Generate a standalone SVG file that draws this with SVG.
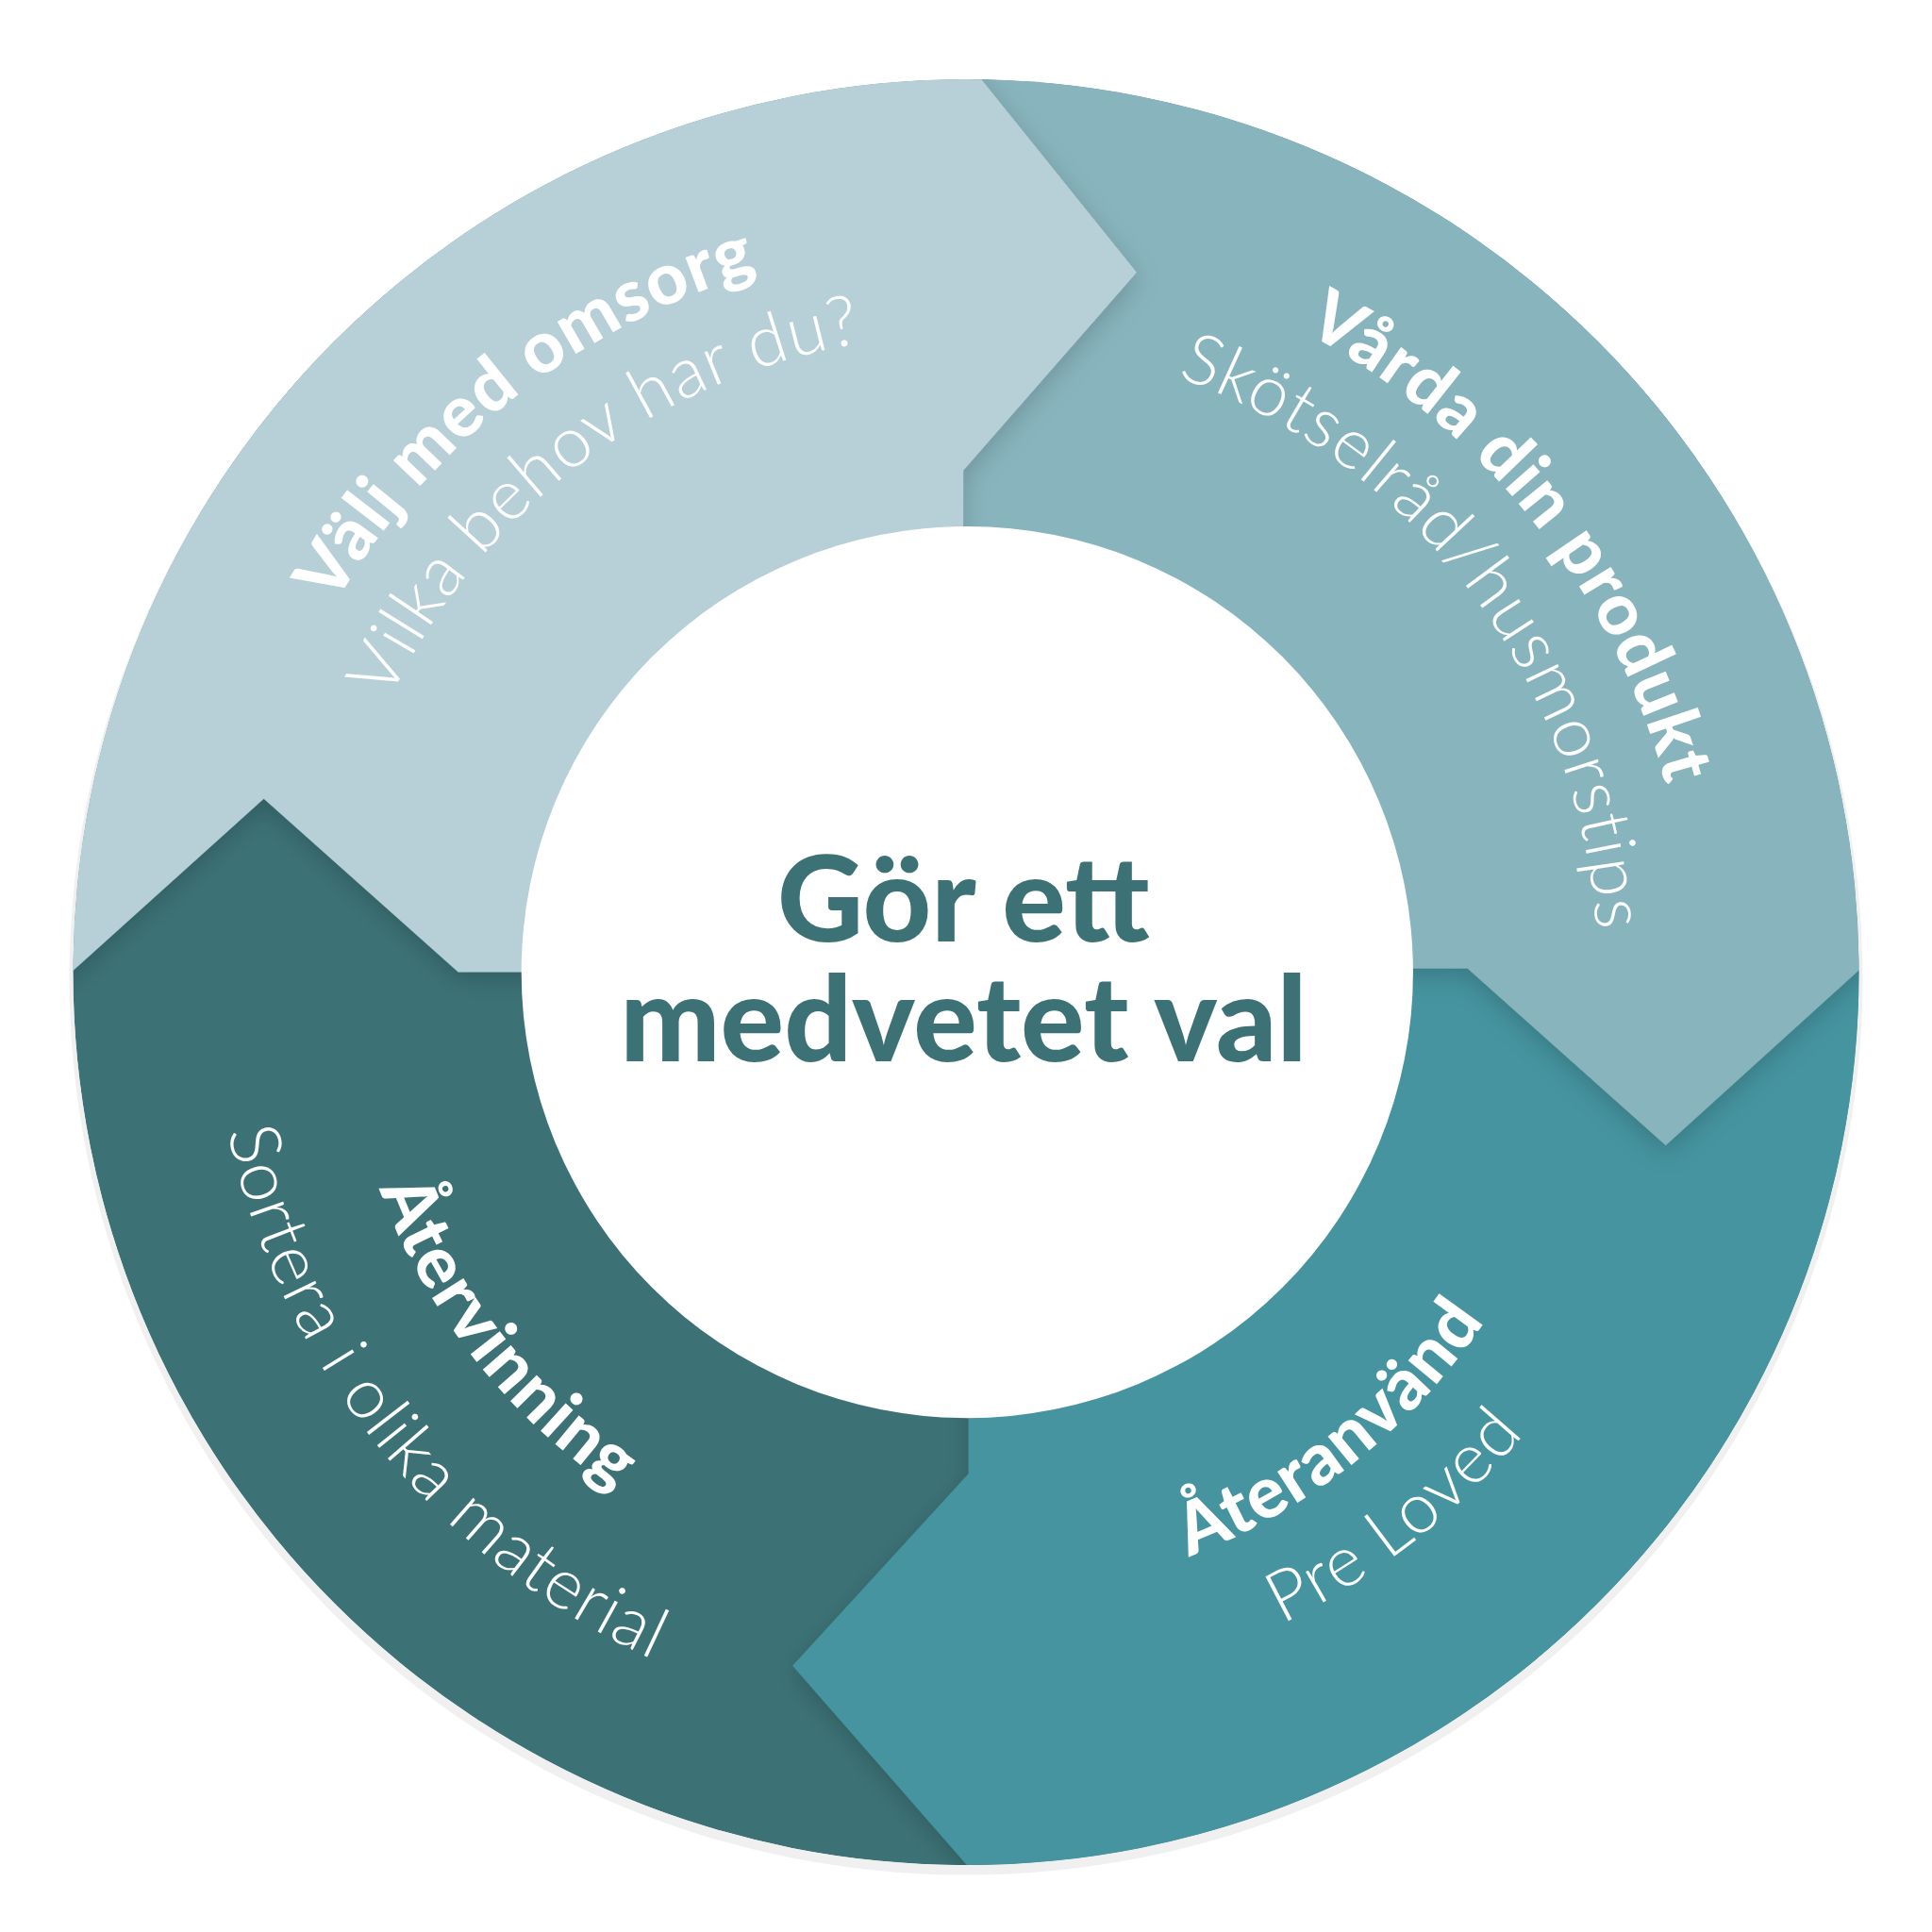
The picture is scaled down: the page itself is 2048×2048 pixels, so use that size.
<svg xmlns="http://www.w3.org/2000/svg" width="2048" height="2048" viewBox="0 0 2048 2048">
<style>
.b{font-family:Lato,"Open Sans",sans-serif;font-weight:900;font-size:58px;fill:#fff;letter-spacing:1px}
.s{font-family:Lato,"Open Sans",sans-serif;font-weight:300;font-size:57px;fill:#fff;letter-spacing:1px}
.c{font-family:Lato,"Open Sans",sans-serif;font-weight:900;font-size:96px;fill:#3C7276;text-anchor:middle}
</style>
<defs>
<clipPath id="ring"><circle cx="780" cy="785" r="721"/></clipPath>
<filter id="sh" x="-20%" y="-20%" width="140%" height="140%"><feDropShadow dx="0" dy="6" stdDeviation="10" flood-color="#000" flood-opacity="0.18"/></filter>
<path id="cw590" d="M190,785 A590,590 0 0 1 1370,785 A590,590 0 0 1 190,785"/>
<path id="cw515" d="M265,785 A515,515 0 0 1 1295,785 A515,515 0 0 1 265,785"/>
<path id="cw585" d="M195,785 A585,585 0 0 1 1365,785 A585,585 0 0 1 195,785"/>
<path id="cw510" d="M270,785 A510,510 0 0 1 1290,785 A510,510 0 0 1 270,785"/>
<path id="ccw505" d="M275,785 A505,505 0 0 0 1285,785 A505,505 0 0 0 275,785"/>
<path id="ccw585" d="M195,785 A585,585 0 0 0 1365,785 A585,585 0 0 0 195,785"/>
<path id="ccw610" d="M170,785 A610,610 0 0 0 1390,785 A610,610 0 0 0 170,785"/>
</defs>
<g transform="scale(1.31282)">
<circle cx="780" cy="790" r="724" fill="#000" opacity="0.06"/>
<g clip-path="url(#ring)">
<g id="recycle-seg"><circle cx="780" cy="785" r="721" fill="#3C7276"/></g>
<g id="reuse-seg"><polygon filter="url(#sh)" fill="#4494A0" points="1185,782 1345,925 1560,730 1560,1560 828,1560 640,1345 782,1190 782,782"/></g>
<g id="care-seg"><polygon filter="url(#sh)" fill="#88B4BD" points="725,-20 1560,-20 1560,730 1345,925 1185,782 778,782 778,380 918,220"/></g>
<g id="choose-seg"><polygon filter="url(#sh)" fill="#B7D0D8" points="-20,-20 725,-20 918,220 778,380 778,785 370,785 213,645 -20,855"/></g>
</g>
<g id="center">
<circle cx="781" cy="785" r="360" fill="#fff"/>
<text class="c" x="778" y="760">Gör ett</text>
<text class="c" x="778" y="857">medvetet val</text>
</g>
<g id="choose">
<text class="b" text-anchor="middle"><textPath href="#cw590" startOffset="14.4%">Välj med omsorg</textPath></text>
<text class="s" text-anchor="middle"><textPath href="#cw515" startOffset="14.7%">Vilka behov har du?</textPath></text>
</g>
<g id="care">
<text class="b" text-anchor="middle"><textPath href="#cw585" startOffset="39.3%">Vårda din produkt</textPath></text>
<text class="s" text-anchor="middle"><textPath href="#cw510" startOffset="39.7%">Skötselråd/husmorstips</textPath></text>
</g>
<g id="reuse">
<text class="b" text-anchor="middle"><textPath href="#ccw505" startOffset="35.7%">Återanvänd</textPath></text>
<text class="s" text-anchor="middle"><textPath href="#ccw585" startOffset="35.6%">Pre Loved</textPath></text>
</g>
<g id="recycle">
<text class="b" text-anchor="middle"><textPath href="#ccw505" startOffset="10.6%">Återvinning</textPath></text>
<text class="s" text-anchor="middle"><textPath href="#ccw610" startOffset="10.8%">Sortera i olika material</textPath></text>
</g>
<g id="connectors"/>
</g>
</svg>
